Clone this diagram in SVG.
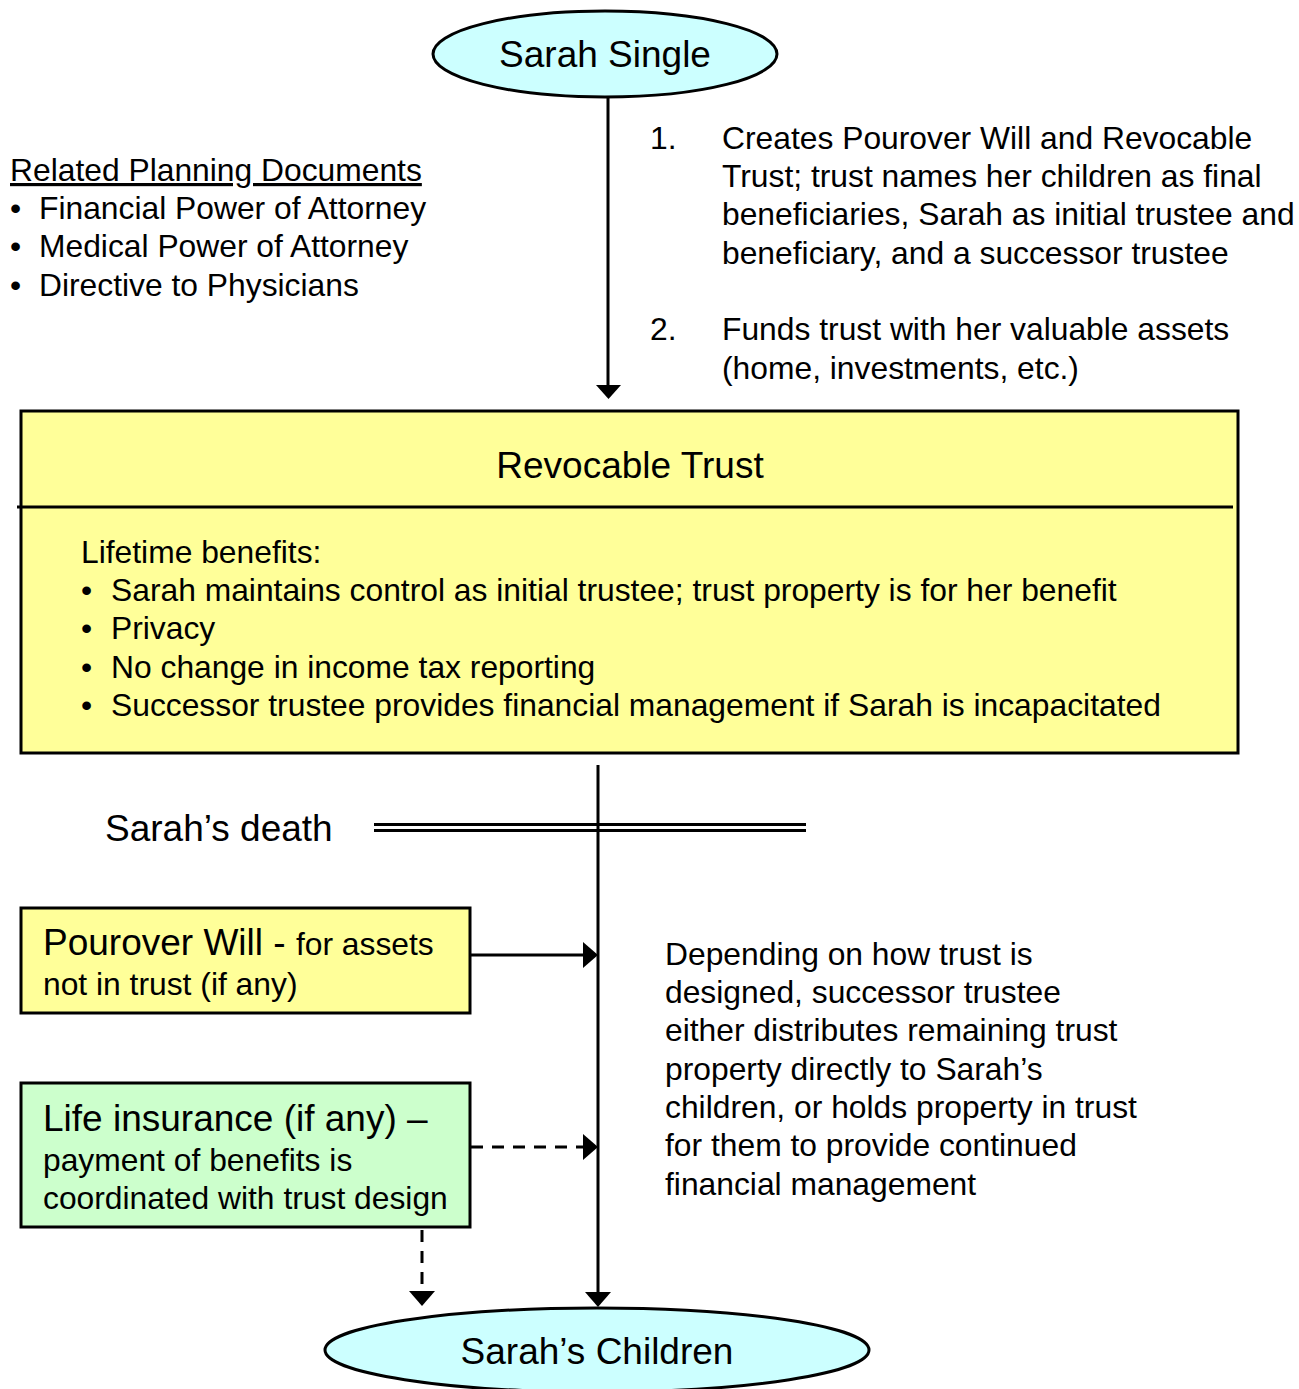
<svg xmlns="http://www.w3.org/2000/svg" width="1299" height="1389" viewBox="0 0 1299 1389">
<style>
text{font-family:"Liberation Sans",Arial,sans-serif;fill:#000}
.t32{font-size:31.8px}
.t37{font-size:37px}
.box{stroke:#000;stroke-width:3}
.ln{stroke:#000;stroke-width:3;fill:none}
.dash{stroke:#000;stroke-width:3;fill:none;stroke-dasharray:12 9}
.ah{fill:#000}
</style>
<rect width="1299" height="1389" fill="#fff"/>
<g id="connectors">
  <line class="ln" x1="608" y1="97" x2="608" y2="386"/>
  <polygon class="ah" points="596,385 621,385 608.5,399"/>
  <line class="ln" x1="598" y1="765" x2="598" y2="1293"/>
  <polygon class="ah" points="585,1292 611,1292 598,1307"/>
  <line class="ln" x1="374" y1="824.5" x2="806" y2="824.5"/>
  <line class="ln" x1="374" y1="830.5" x2="806" y2="830.5"/>
  <line class="ln" x1="470" y1="955" x2="584" y2="955"/>
  <polygon class="ah" points="583,942 583,968 598,955"/>
  <line class="dash" x1="471" y1="1147" x2="584" y2="1147"/>
  <polygon class="ah" points="583,1134 583,1160 598,1147"/>
  <line class="dash" x1="422" y1="1230" x2="422" y2="1292"/>
  <polygon class="ah" points="409,1291 435,1291 422,1306"/>
</g>
<g id="sarah-single">
  <ellipse class="box" cx="605" cy="54" rx="172" ry="43" fill="#CCFFFF"/>
  <text class="t37" x="605" y="67" text-anchor="middle">Sarah Single</text>
</g>
<g id="steps">
  <text class="t32" x="650" y="149">1.</text>
  <text class="t32" x="722" y="149">Creates Pourover Will and Revocable</text>
  <text class="t32" x="722" y="187">Trust; trust names her children as final</text>
  <text class="t32" x="722" y="225">beneficiaries, Sarah as initial trustee and</text>
  <text class="t32" x="722" y="264">beneficiary, and a successor trustee</text>
  <text class="t32" x="650" y="340">2.</text>
  <text class="t32" x="722" y="340">Funds trust with her valuable assets</text>
  <text class="t32" x="722" y="379">(home, investments, etc.)</text>
</g>
<g id="related-docs">
  <text class="t32" x="10" y="181" text-decoration="underline">Related Planning Documents</text>
  <text class="t32" x="10" y="219">•</text>
  <text class="t32" x="39" y="219">Financial Power of Attorney</text>
  <text class="t32" x="10" y="257">•</text>
  <text class="t32" x="39" y="257">Medical Power of Attorney</text>
  <text class="t32" x="10" y="296">•</text>
  <text class="t32" x="39" y="296">Directive to Physicians</text>
</g>
<g id="revocable-trust">
  <rect class="box" x="21" y="411" width="1217" height="342" fill="#FFFF99"/>
  <line x1="17" y1="507" x2="1233" y2="507" stroke="#000" stroke-width="3"/>
  <text class="t37" x="630" y="478" text-anchor="middle">Revocable Trust</text>
  <text class="t32" x="81" y="563">Lifetime benefits:</text>
  <text class="t32" x="81" y="601">•</text>
  <text class="t32" x="111" y="601">Sarah maintains control as initial trustee; trust property is for her benefit</text>
  <text class="t32" x="81" y="639">•</text>
  <text class="t32" x="111" y="639">Privacy</text>
  <text class="t32" x="81" y="678">•</text>
  <text class="t32" x="111" y="678">No change in income tax reporting</text>
  <text class="t32" x="81" y="716">•</text>
  <text class="t32" x="111" y="716">Successor trustee provides financial management if Sarah is incapacitated</text>
</g>
<g id="death">
  <text class="t37" x="105" y="841">Sarah’s death</text>
</g>
<g id="pourover-will">
  <rect class="box" x="21" y="908" width="449" height="105" fill="#FFFF99"/>
  <text x="43" y="955"><tspan class="t37">Pourover Will - </tspan><tspan class="t32">for assets</tspan></text>
  <text class="t32" x="43" y="995">not in trust (if any)</text>
</g>
<g id="life-insurance">
  <rect class="box" x="21" y="1083" width="449" height="144" fill="#CCFFCC"/>
  <text class="t37" x="43" y="1131">Life insurance (if any) –</text>
  <text class="t32" x="43" y="1171">payment of benefits is</text>
  <text class="t32" x="43" y="1209">coordinated with trust design</text>
</g>
<g id="distribution-note">
  <text class="t32" x="665" y="965">Depending on how trust is</text>
  <text class="t32" x="665" y="1003">designed, successor trustee</text>
  <text class="t32" x="665" y="1041">either distributes remaining trust</text>
  <text class="t32" x="665" y="1080">property directly to Sarah’s</text>
  <text class="t32" x="665" y="1118">children, or holds property in trust</text>
  <text class="t32" x="665" y="1156">for them to provide continued</text>
  <text class="t32" x="665" y="1195">financial management</text>
</g>
<g id="sarahs-children">
  <ellipse class="box" cx="597" cy="1350" rx="272" ry="42" fill="#CCFFFF"/>
  <text class="t37" x="597" y="1364" text-anchor="middle">Sarah’s Children</text>
</g>
</svg>
